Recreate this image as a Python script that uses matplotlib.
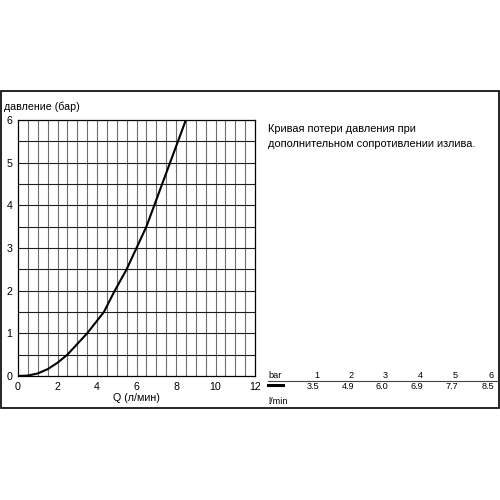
import matplotlib
matplotlib.use("Agg")
import matplotlib.pyplot as plt
import numpy as np
from matplotlib.patches import Rectangle

plt.rcParams['font.family'] = ['Liberation Sans', 'DejaVu Sans']

# table values shown at the right (pressure in bar -> flow in l/min)
table_bar = [1, 2, 3, 4, 5, 6]
table_flow = [3.5, 4.9, 6.0, 6.9, 7.7, 8.5]

# curve points
curve_flow = [0, 0.5, 1.0, 1.5, 2.0, 2.5, 3.0, 3.5, 4.35, 4.9, 5.5, 6.0, 6.5, 6.9, 7.3, 7.7, 8.1, 8.5]
curve_bar = [0, 0.01, 0.06, 0.16, 0.31, 0.5, 0.75, 1.0, 1.5, 2.0, 2.5, 3.0, 3.5, 4.0, 4.5, 5.0, 5.5, 6.0]

fig = plt.figure(figsize=(5, 5), dpi=100)
ax = fig.add_axes([0.036, 0.248, 0.474, 0.512])

ax.plot(curve_flow, curve_bar, color="black", lw=1.5, solid_joinstyle="round", zorder=3)

ax.set_xlim(0, 12)
ax.set_ylim(0, 6)
ax.set_xticks(range(0, 13, 2))
ax.set_yticks(range(0, 7))
for x in np.arange(0.5, 12, 0.5):
    ax.axvline(x, color="#6e6e6e", lw=0.8, zorder=1)
for y in np.arange(0.5, 6, 0.5):
    ax.axhline(y, color="#1e1e1e", lw=0.8, zorder=1)
for s in ax.spines.values():
    s.set_linewidth(0.9)
ax.tick_params(length=0, labelsize=7.7, pad=4)
ax.set_xlabel("Q (л/мин)", fontsize=7.7, labelpad=1)
fig.text(0.008, 0.786, "давление (бар)", fontsize=7.7, va="center")

# frame around the whole drawing
fig.patches.append(Rectangle((0.001, 0.184), 0.997, 0.634, transform=fig.transFigure,
                             fill=False, lw=1.2, ec="black"))

fig.text(0.536, 0.742, "Кривая потери давления при", fontsize=7.9, va="center")
fig.text(0.536, 0.712, "дополнительном сопротивлении излива.", fontsize=7.9, va="center")

# small table
col_x = [0.638, 0.708, 0.776, 0.846, 0.916, 0.988]
fig.text(0.536, 0.250, "bar", fontsize=6.6, va="center")
for cx, b in zip(col_x, table_bar):
    fig.text(cx, 0.250, str(b), fontsize=6.6, va="center", ha="right")
fig.add_artist(plt.Line2D([0.536, 0.996], [0.2386, 0.2386], transform=fig.transFigure,
                          color="#444444", lw=0.8))
fig.add_artist(plt.Line2D([0.536, 0.566], [0.230, 0.230], transform=fig.transFigure,
                          color="black", lw=2.2))
for cx, q in zip(col_x, table_flow):
    fig.text(cx, 0.2266, f"{q:.1f}", fontsize=6.6, va="center", ha="right")
fig.text(0.536, 0.1966, "l/min", fontsize=6.6, va="center")

fig.savefig("out.png", dpi=100)
